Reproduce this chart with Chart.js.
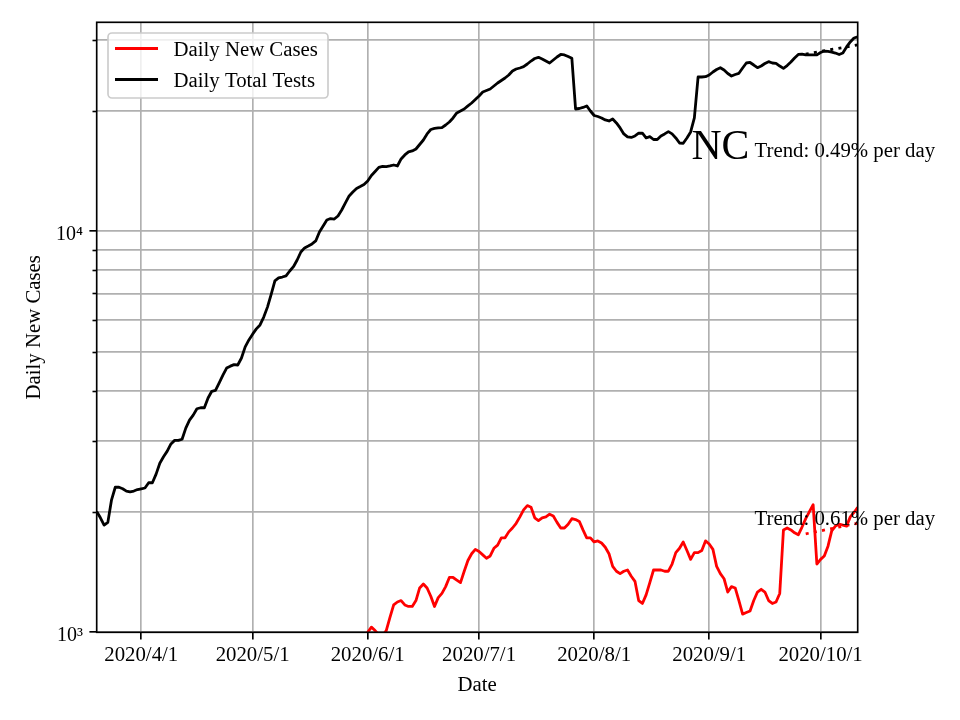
<!DOCTYPE html>
<html>
<head>
<meta charset="utf-8">
<script src="https://cdn.jsdelivr.net/npm/chart.js@4.4.0/dist/chart.umd.min.js"></script>
<style>
html,body{margin:0;padding:0;background:#fff;}
#wrap{width:960px;height:720px;position:relative;}
</style>
</head>
<body>
<div id="wrap"><canvas id="c" width="960" height="720"></canvas></div>
<script>
// ---- data (day index 0 = 2020-03-20) ----
const startDate = '2020-03-20';
const tickDays = [12, 42, 73, 103, 134, 165, 195];
const tickLabels = ['2020/4/1', '2020/5/1', '2020/6/1', '2020/7/1', '2020/8/1', '2020/9/1', '2020/10/1'];
const yTickValues = [1000, 2000, 3000, 4000, 5000, 6000, 7000, 8000, 9000, 10000, 20000, 30000];
const yMajorLabels = { 1000: '10\u00B3', 10000: '10\u2074' };

const totalTests = [
  2000, 1930, 1850, 1880, 2140, 2300, 2300, 2280, 2250, 2240,
  2250, 2270, 2280, 2290, 2360, 2360, 2480, 2640, 2740, 2830,
  2950, 3010, 3010, 3030, 3230, 3380, 3480, 3610, 3630, 3630,
  3840, 3990, 4010, 4190, 4380, 4560, 4610, 4650, 4640, 4830,
  5150, 5360, 5540, 5710, 5840, 6110, 6470, 6960, 7520, 7650,
  7690, 7740, 7960, 8160, 8480, 8880, 9090, 9190, 9300, 9460,
  9960, 10310, 10670, 10760, 10730, 10920, 11300, 11770, 12250, 12530,
  12790, 12930, 13080, 13350, 13780, 14100, 14430, 14510, 14500, 14550,
  14630, 14550, 15150, 15500, 15770, 15860, 16040, 16460, 16890, 17490,
  17940, 18050, 18100, 18130, 18410, 18730, 19170, 19730, 19950, 20180,
  20540, 20890, 21320, 21750, 22250, 22440, 22640, 23030, 23430, 23770,
  24110, 24530, 25100, 25390, 25540, 25730, 26130, 26580, 26970, 27150,
  26890, 26580, 26280, 26740, 27200, 27600, 27530, 27280, 27000, 20180,
  20240, 20360, 20540, 19950, 19440, 19330, 19170, 18950, 18840, 19060,
  18630, 18100, 17490, 17190, 17140, 17290, 17560, 17560, 17090, 17220,
  16940, 16940, 17290, 17490, 17720, 17490, 17090, 16600, 16580, 17090,
  17690, 19170, 24250, 24250, 24290, 24530, 24960, 25320, 25580, 25250,
  24740, 24390, 24600, 24770, 25540, 26280, 26360, 25980, 25580, 25830,
  26200, 26480, 26280, 26240, 25830, 25490, 25900, 26430, 27050, 27600,
  27670, 27530, 27530, 27530, 27530, 27920, 28150, 28080, 27990, 27830,
  27600, 27830, 28820, 29660, 30340, 30520
];

const casesStartDay = 72;
const newCases = [
  960, 1000, 1030, 1010, 985, 980, 1010, 1090, 1170, 1190,
  1200, 1170, 1160, 1160, 1200, 1290, 1320, 1290, 1230, 1160,
  1220, 1250, 1300, 1370, 1370, 1350, 1330, 1420, 1510, 1570,
  1610, 1590, 1560, 1530, 1550, 1620, 1650, 1720, 1720, 1780,
  1820, 1870, 1940, 2020, 2070, 2050, 1930, 1900, 1930, 1940,
  1970, 1950, 1880, 1820, 1820, 1860, 1920, 1910, 1890, 1800,
  1720, 1720, 1680, 1690, 1670, 1630, 1570, 1460, 1420, 1400,
  1420, 1430, 1380, 1340, 1200, 1180, 1240, 1330, 1430, 1430,
  1430, 1420, 1420, 1480, 1580, 1620, 1680, 1600, 1520, 1580,
  1580, 1600, 1690, 1660, 1610, 1460, 1400, 1360, 1260, 1300,
  1290, 1200, 1110, 1120, 1130, 1200, 1260, 1280, 1260, 1200,
  1180, 1190, 1250, 1800, 1820, 1800, 1770, 1750, 1830, 1920,
  2000, 2080, 1480, 1520, 1550, 1640, 1790, 1840, 1860, 1850,
  1840, 1940, 1990, 2050
];

const caseTrendDays = [191, 205];
const caseTrendValues = [1760, 1870];
const testTrendDays = [191, 205];
const testTrendValues = [27670, 29150];

const seriesNames = ['Daily New Cases', 'Daily Total Tests'];
const stateLabel = 'NC';
const testTrendText = 'Trend: 0.49% per day';
const caseTrendText = 'Trend: 0.61% per day';

// ---- build datasets ----
const testPoints = totalTests.map((v, i) => ({ x: i, y: v }));
const casePoints = newCases.map((v, i) => ({ x: casesStartDay + i, y: v }));
const caseTrend = caseTrendDays.map((d, i) => ({ x: d, y: caseTrendValues[i] }));
const testTrend = testTrendDays.map((d, i) => ({ x: d, y: testTrendValues[i] }));

const FONT = "'Liberation Serif', 'Times New Roman', serif";
const LW = 2.8;

const mplPlugin = {
  id: 'mplExtras',
  afterDatasetsDraw(chart) {
    const ctx = chart.ctx;
    const a = chart.chartArea;
    const xs = chart.scales.x, ys = chart.scales.y;
    ctx.save();
    // minor ticks on y axis
    ctx.strokeStyle = '#000';
    ctx.lineWidth = 1.6;
    yTickValues.forEach(v => {
      if (yMajorLabels[v]) return;
      const py = Math.round(ys.getPixelForValue(v)) + 0.5;
      ctx.beginPath();
      ctx.moveTo(a.left - 4.2, py);
      ctx.lineTo(a.left, py);
      ctx.stroke();
    });
    // spines
    ctx.lineWidth = 1.67;
    ctx.strokeStyle = '#000';
    ctx.strokeRect(a.left, a.top, a.right - a.left, a.bottom - a.top);

    // texts
    ctx.fillStyle = '#000';
    ctx.textBaseline = 'alphabetic';
    ctx.textAlign = 'left';
    ctx.font = '41.7px ' + FONT;
    ctx.fillText(stateLabel, xs.getPixelForValue(160.2), ys.getPixelForValue(15150));
    ctx.font = '20.8px ' + FONT;
    ctx.fillText(testTrendText, xs.getPixelForValue(177.2), ys.getPixelForValue(15320));
    ctx.fillText(caseTrendText, xs.getPixelForValue(177.2), ys.getPixelForValue(1850));

    // legend
    const lx = a.left + 11.3, ly = a.top + 10.7, lw = 220, lh = 65, r = 4;
    ctx.beginPath();
    ctx.moveTo(lx + r, ly);
    ctx.lineTo(lx + lw - r, ly);
    ctx.arcTo(lx + lw, ly, lx + lw, ly + r, r);
    ctx.lineTo(lx + lw, ly + lh - r);
    ctx.arcTo(lx + lw, ly + lh, lx + lw - r, ly + lh, r);
    ctx.lineTo(lx + r, ly + lh);
    ctx.arcTo(lx, ly + lh, lx, ly + lh - r, r);
    ctx.lineTo(lx, ly + r);
    ctx.arcTo(lx, ly, lx + r, ly, r);
    ctx.closePath();
    ctx.fillStyle = 'rgba(255,255,255,0.8)';
    ctx.fill();
    ctx.strokeStyle = '#cccccc';
    ctx.lineWidth = 1.67;
    ctx.stroke();
    const legendSets = chart.data.datasets.filter(d => d.showInLegend);
    legendSets.forEach((ds, i) => {
      const hy = ly + 15.5 + i * 31;
      ctx.strokeStyle = ds.borderColor;
      ctx.lineWidth = LW;
      ctx.beginPath();
      ctx.moveTo(lx + 7, hy);
      ctx.lineTo(lx + 50, hy);
      ctx.stroke();
      ctx.fillStyle = '#000';
      ctx.font = '20.8px ' + FONT;
      ctx.textBaseline = 'alphabetic';
      ctx.fillText(ds.label, lx + 65.5, hy + 7);
    });
    ctx.restore();
  }
};

new Chart(document.getElementById('c'), {
  type: 'line',
  data: {
    datasets: [
      { label: seriesNames[0], data: casePoints, borderColor: '#ff0000', borderWidth: LW, pointRadius: 0, tension: 0, borderJoinStyle: 'round', clip: 0, showInLegend: true },
      { label: seriesNames[1], data: testPoints, borderColor: '#000000', borderWidth: LW, pointRadius: 0, tension: 0, borderJoinStyle: 'round', clip: 0, showInLegend: true },
      { label: 'case trend', data: caseTrend, borderColor: '#ff0000', borderWidth: LW, pointRadius: 0, borderDash: [3, 5.3], borderCapStyle: 'butt', clip: 0 },
      { label: 'test trend', data: testTrend, borderColor: '#000000', borderWidth: LW, pointRadius: 0, borderDash: [3, 5.3], borderCapStyle: 'butt', clip: 0 }
    ]
  },
  options: {
    responsive: false,
    animation: false,
    devicePixelRatio: 1,
    layout: { padding: { left: 0, right: 102.3, top: 22.3, bottom: 0 } },
    plugins: { legend: { display: false }, tooltip: { enabled: false } },
    scales: {
      x: {
        type: 'linear',
        min: 0,
        max: 205,
        afterBuildTicks: s => { s.ticks = tickDays.map(v => ({ value: v })); },
        afterFit: s => { s.height = 87.7; },
        grid: { color: '#b0b0b0', lineWidth: 1.67, tickLength: 7.3, tickColor: '#000', tickWidth: 1.67, drawTicks: true },
        border: { display: false },
        ticks: {
          autoSkip: false, maxRotation: 0, minRotation: 0, padding: 3.5, color: '#000',
          font: { family: FONT, size: 20.8 },
          callback: v => { const k = tickDays.indexOf(v); return k >= 0 ? tickLabels[k] : ''; }
        },
        title: { display: true, text: 'Date', color: '#000', font: { family: FONT, size: 20.8 }, padding: { top: 0, bottom: 21.5 } }
      },
      y: {
        type: 'logarithmic',
        min: 1000,
        max: 33200,
        afterBuildTicks: s => { s.ticks = yTickValues.map(v => ({ value: v, major: !!yMajorLabels[v] })); },
        afterFit: s => { s.width = 96.7; },
        grid: {
          color: '#b0b0b0', lineWidth: 1.67, tickLength: 7.3, tickWidth: 1.67, drawTicks: true,
          tickColor: ctx => (ctx.tick && yMajorLabels[ctx.tick.value]) ? '#000' : 'rgba(0,0,0,0)'
        },
        border: { display: false },
        ticks: {
          autoSkip: false, padding: 6.5, color: '#000', labelOffset: 3,
          font: { family: FONT, size: 20 },
          callback: v => yMajorLabels[v] || ''
        },
        title: { display: true, text: 'Daily New Cases', color: '#000', font: { family: FONT, size: 20.8 }, padding: { top: 22.5, bottom: 0 } }
      }
    }
  },
  plugins: [mplPlugin]
});
</script>
</body>
</html>
